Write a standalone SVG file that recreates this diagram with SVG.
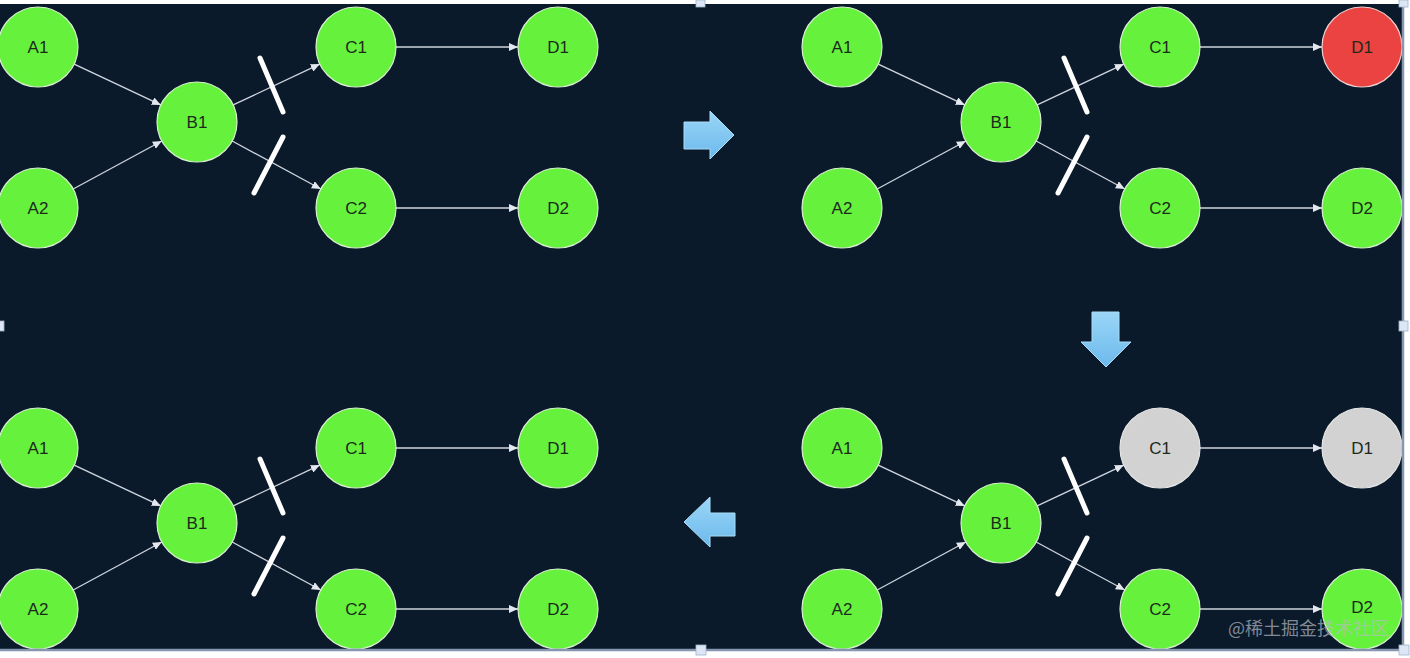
<svg xmlns="http://www.w3.org/2000/svg" width="1410" height="658" viewBox="0 0 1410 658">
<defs>
<style>
.n{fill:#66f23c;stroke:#d8f0d0;stroke-width:1.2}
.red{fill:#ea4341;stroke:#f0d0d0;stroke-width:1.2}
.gray{fill:#d2d2d2;stroke:#e6e6e6;stroke-width:1.2}
.t{font-family:"Liberation Sans",Arial,sans-serif;font-size:17px;fill:#1c2a1c;text-anchor:middle;dominant-baseline:central}
.e{stroke:#cfd5dd;stroke-width:1.3;fill:none;marker-end:url(#ah)}
.s{stroke:#ffffff;stroke-width:5;stroke-linecap:round}
.ba{fill:url(#bg);stroke:#a9dcf7;stroke-width:1}
</style>
<marker id="ah" markerUnits="userSpaceOnUse" markerWidth="10" markerHeight="8" refX="9" refY="4" orient="auto">
<path d="M0,0 L9,4 L0,8 Z" fill="#e4e8ee"/>
</marker>
<linearGradient id="bg" x1="0" y1="0" x2="0" y2="1">
<stop offset="0" stop-color="#9ad6f7"/>
<stop offset="1" stop-color="#6cb9ec"/>
</linearGradient>
<g id="edges">
<line class="e" x1="74.2" y1="64.1" x2="160.8" y2="104.9"/>
<line class="e" x1="73.2" y1="189" x2="161.8" y2="141"/>
<line class="e" x1="233.2" y1="104.9" x2="319.8" y2="64.1"/>
<line class="e" x1="232.2" y1="141" x2="320.8" y2="189"/>
<line class="e" x1="396" y1="47" x2="518" y2="47"/>
<line class="e" x1="396" y1="208" x2="518" y2="208"/>
<line class="s" x1="260" y1="58" x2="283" y2="112"/>
<line class="s" x1="283" y1="137" x2="254" y2="193"/>
</g>
</defs>
<rect x="0" y="0" width="1410" height="658" fill="#ffffff"/>
<rect x="0" y="4" width="1404" height="646" fill="#0b1a2b"/>
<g id="connectors">
<use href="#edges"/>
<use href="#edges" transform="translate(804,0)"/>
<use href="#edges" transform="translate(0,401)"/>
<use href="#edges" transform="translate(804,401)"/>
</g>
<g id="panel-top-left">
<g id="tl-A1"><circle class="n" cx="38" cy="47" r="40"/><text class="t" x="38" y="47">A1</text></g>
<g id="tl-A2"><circle class="n" cx="38" cy="208" r="40"/><text class="t" x="38" y="208">A2</text></g>
<g id="tl-B1"><circle class="n" cx="197" cy="122" r="40"/><text class="t" x="197" y="122">B1</text></g>
<g id="tl-C1"><circle class="n" cx="356" cy="47" r="40"/><text class="t" x="356" y="47">C1</text></g>
<g id="tl-C2"><circle class="n" cx="356" cy="208" r="40"/><text class="t" x="356" y="208">C2</text></g>
<g id="tl-D1"><circle class="n" cx="558" cy="47" r="40"/><text class="t" x="558" y="47">D1</text></g>
<g id="tl-D2"><circle class="n" cx="558" cy="208" r="40"/><text class="t" x="558" y="208">D2</text></g>
</g>
<g id="panel-top-right" transform="translate(804,0)">
<g id="tr-A1"><circle class="n" cx="38" cy="47" r="40"/><text class="t" x="38" y="47">A1</text></g>
<g id="tr-A2"><circle class="n" cx="38" cy="208" r="40"/><text class="t" x="38" y="208">A2</text></g>
<g id="tr-B1"><circle class="n" cx="197" cy="122" r="40"/><text class="t" x="197" y="122">B1</text></g>
<g id="tr-C1"><circle class="n" cx="356" cy="47" r="40"/><text class="t" x="356" y="47">C1</text></g>
<g id="tr-C2"><circle class="n" cx="356" cy="208" r="40"/><text class="t" x="356" y="208">C2</text></g>
<g id="tr-D1"><circle class="red" cx="558" cy="47" r="40"/><text class="t" x="558" y="47">D1</text></g>
<g id="tr-D2"><circle class="n" cx="558" cy="208" r="40"/><text class="t" x="558" y="208">D2</text></g>
</g>
<g id="panel-bottom-left" transform="translate(0,401)">
<g id="bl-A1"><circle class="n" cx="38" cy="47" r="40"/><text class="t" x="38" y="47">A1</text></g>
<g id="bl-A2"><circle class="n" cx="38" cy="208" r="40"/><text class="t" x="38" y="208">A2</text></g>
<g id="bl-B1"><circle class="n" cx="197" cy="122" r="40"/><text class="t" x="197" y="122">B1</text></g>
<g id="bl-C1"><circle class="n" cx="356" cy="47" r="40"/><text class="t" x="356" y="47">C1</text></g>
<g id="bl-C2"><circle class="n" cx="356" cy="208" r="40"/><text class="t" x="356" y="208">C2</text></g>
<g id="bl-D1"><circle class="n" cx="558" cy="47" r="40"/><text class="t" x="558" y="47">D1</text></g>
<g id="bl-D2"><circle class="n" cx="558" cy="208" r="40"/><text class="t" x="558" y="208">D2</text></g>
</g>
<g id="panel-bottom-right" transform="translate(804,401)">
<g id="br-A1"><circle class="n" cx="38" cy="47" r="40"/><text class="t" x="38" y="47">A1</text></g>
<g id="br-A2"><circle class="n" cx="38" cy="208" r="40"/><text class="t" x="38" y="208">A2</text></g>
<g id="br-B1"><circle class="n" cx="197" cy="122" r="40"/><text class="t" x="197" y="122">B1</text></g>
<g id="br-C1"><circle class="gray" cx="356" cy="47" r="40"/><text class="t" x="356" y="47">C1</text></g>
<g id="br-C2"><circle class="n" cx="356" cy="208" r="40"/><text class="t" x="356" y="208">C2</text></g>
<g id="br-D1"><circle class="gray" cx="558" cy="47" r="40"/><text class="t" x="558" y="47">D1</text></g>
<g id="br-D2"><circle class="n" cx="558" cy="208" r="40"/><text class="t" x="558" y="206">D2</text></g>
</g>
<g id="step-arrows">
<path id="arrow-right" class="ba" d="M684,122 L710,122 L710,111 L734,135 L710,159 L710,149 L684,149 Z"/>
<path id="arrow-down" class="ba" d="M1092,312 L1119,312 L1119,342 L1131,342 L1106,367 L1081,342 L1092,342 Z"/>
<path id="arrow-left" class="ba" d="M735,513 L710,513 L710,497 L684,522 L710,547 L710,536 L735,536 Z"/>
</g>
<g id="frame">
<line x1="1403" y1="4" x2="1403" y2="651" stroke="#8596ae" stroke-width="2.5"/>
<line x1="0" y1="650" x2="1404" y2="650" stroke="#8596ae" stroke-width="2.5"/>
<g fill="#dce6f4" stroke="#9fb3cc" stroke-width="0.8">
<rect x="696" y="0" width="9" height="7"/>
<rect x="-4" y="321" width="8" height="10"/>
<rect x="1399" y="321" width="9" height="10"/>
<rect x="696" y="645" width="10" height="10"/>
<rect x="1399" y="645" width="10" height="10"/>
<rect x="1399" y="0" width="9" height="7"/>
</g>
</g>
<text x="1228" y="635" font-family="'Noto Sans CJK SC',sans-serif" font-size="18" fill="#b8bcc4" fill-opacity="0.7">@稀土掘金技术社区</text>
</svg>
